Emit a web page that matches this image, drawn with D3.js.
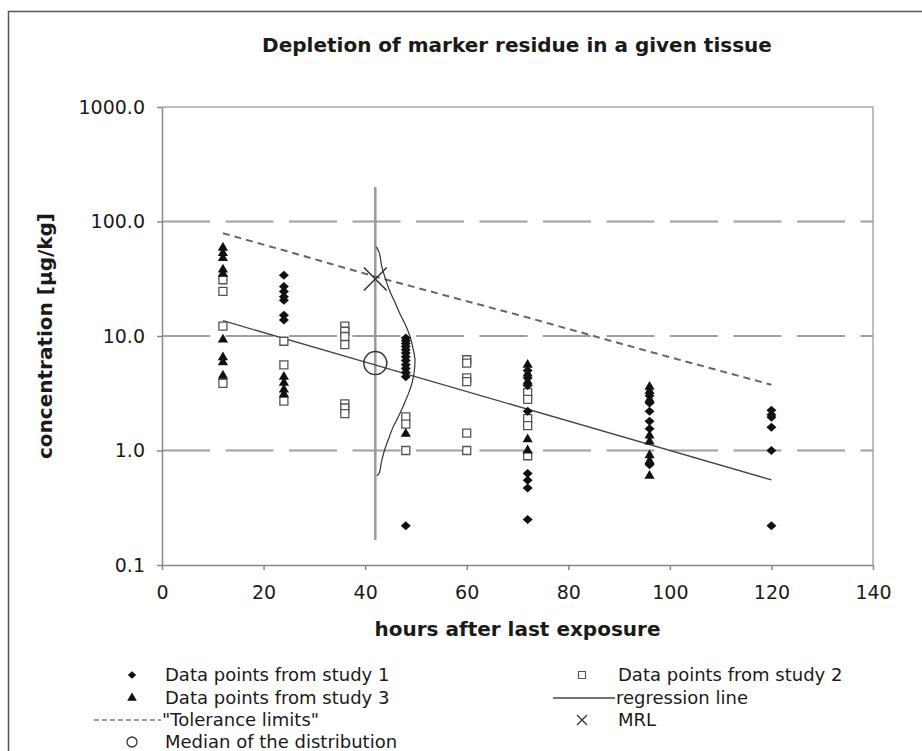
<!DOCTYPE html>
<html>
<head>
<meta charset="utf-8">
<script src="https://cdn.jsdelivr.net/npm/d3@7"></script>
<style>
  body { margin: 0; background: #fff; }
  text { font-family: "DejaVu Sans", Verdana, sans-serif; fill: #1a1a1a; }
</style>
</head>
<body>
<svg id="chart" width="922" height="751"></svg>
<script>
// [hours, concentration]
const study1 = [
  [24, 34], [24, 27], [24, 24.5], [24, 22], [24, 20.5], [24, 15.2], [24, 13.8],
  [48, 9.6], [48, 9.1], [48, 8.6], [48, 8.1], [48, 7.6], [48, 7.1], [48, 6.6],
  [48, 6.1], [48, 5.6], [48, 5.2], [48, 4.8], [48, 4.4], [48, 0.22],
  [72, 5.0], [72, 4.3], [72, 3.7], [72, 2.2], [72, 0.63], [72, 0.55], [72, 0.47], [72, 0.25],
  [96, 3.0], [96, 2.6], [96, 2.2], [96, 1.8], [96, 1.55], [96, 0.75],
  [120, 2.25], [120, 2.05], [120, 1.95], [120, 1.6], [120, 1.0], [120, 0.22]
];
const study2 = [
  [12, 31], [12, 24.5], [12, 12.2], [12, 3.85],
  [24, 9.0], [24, 5.6], [24, 2.7],
  [36, 12.2], [36, 11], [36, 9.9], [36, 8.4], [36, 2.55], [36, 2.35], [36, 2.1],
  [48, 1.97], [48, 1.7], [48, 1.0],
  [60, 6.2], [60, 5.8], [60, 4.3], [60, 4.0], [60, 1.42], [60, 1.0],
  [72, 3.2], [72, 2.8], [72, 1.9], [72, 1.65], [72, 0.9]
];
const study3 = [
  [12, 59], [12, 53], [12, 48], [12, 38], [12, 35], [12, 9.3], [12, 6.5], [12, 5.9], [12, 4.5],
  [24, 4.4], [24, 3.9], [24, 3.4], [24, 3.1],
  [48, 1.4],
  [72, 5.6], [72, 4.7], [72, 4.0], [72, 1.25], [72, 1.0],
  [96, 3.6], [96, 3.3], [96, 2.8], [96, 1.35], [96, 1.2], [96, 0.91], [96, 0.81], [96, 0.6]
];

const regression = [[12, 13.6], [120, 0.553]];
const tolerance = [[12, 79], [24, 56], [42, 33], [72, 14.5], [96, 7.3], [120, 3.75]];
const mrl = [42, 31.5];
const median = [42, 5.8];
const distAxis = [[42, 0.165], [42, 200]];
const distribution = [
  [42.2, 60], [42.8, 53], [43.3, 40], [44.0, 31.6], [44.8, 25], [45.8, 20], [46.8, 15.8],
  [47.9, 12.6], [48.8, 10], [49.4, 7.9], [49.8, 6.3], [49.8, 5.8], [49.7, 5.0],
  [49.3, 4.0], [48.6, 3.2], [47.6, 2.5], [46.6, 2.0], [45.5, 1.6], [44.6, 1.26],
  [43.8, 1.0], [43.2, 0.79], [42.8, 0.64], [42.3, 0.6]
];

const yTicks = [0.1, 1, 10, 100, 1000];
const yGrid = [1, 10, 100];
const xTicks = [0, 20, 40, 60, 80, 100, 120, 140];

const svg = d3.select('#chart');

const x = d3.scaleLinear().domain([0, 140]).range([162, 873]);
const y = d3.scaleLog().domain([0.1, 1000]).range([565, 107]);

// outer frame (left and top only are in view)
svg.append('path')
  .attr('d', 'M8.5,751V11.5H922')
  .attr('fill', 'none')
  .attr('stroke', '#555')
  .attr('stroke-width', 1.5);

svg.append('text')
  .attr('x', 517)
  .attr('y', 52)
  .attr('text-anchor', 'middle')
  .style('font-size', '20px')
  .style('font-weight', 'bold')
  .text('Depletion of marker residue in a given tissue');

// plot frame top / right
svg.append('path')
  .attr('d', `M${x(0)},${y(1000)}H${x(140)}V${y(0.1)}`)
  .attr('fill', 'none')
  .attr('stroke', '#a8a8a8')
  .attr('stroke-width', 1.5);

svg.selectAll('line.grid').data(yGrid)
  .enter().append('line')
  .attr('class', 'grid')
  .attr('x1', x(0))
  .attr('x2', x(140))
  .attr('y1', d => y(d))
  .attr('y2', d => y(d))
  .attr('stroke', '#a0a0a0')
  .attr('stroke-width', 2)
  .attr('stroke-dasharray', '48,15.5');

const yAxis = svg.append('g')
  .attr('transform', `translate(${x(0)},0)`)
  .call(d3.axisLeft(y).tickValues(yTicks).tickFormat(d3.format('.1f'))
    .tickSize(5).tickSizeOuter(0).tickPadding(12));

const xAxis = svg.append('g')
  .attr('transform', `translate(0,${y(0.1)})`)
  .call(d3.axisBottom(x).tickValues(xTicks).tickSize(5).tickSizeOuter(0).tickPadding(16));

[yAxis, xAxis].forEach(ax => {
  ax.select('.domain').attr('stroke', '#888').attr('stroke-width', 1.5);
  ax.selectAll('.tick line').attr('stroke', '#888').attr('stroke-width', 1.5);
  ax.selectAll('.tick text').style('font-size', '19px').attr('fill', '#1a1a1a');
});

svg.append('text')
  .attr('transform', `translate(52,${(y(0.1) + y(1000)) / 2}) rotate(-90)`)
  .attr('text-anchor', 'middle')
  .style('font-size', '20px')
  .style('font-weight', 'bold')
  .text('concentration [µg/kg]');

svg.append('text')
  .attr('x', (x(0) + x(140)) / 2)
  .attr('y', 636)
  .attr('text-anchor', 'middle')
  .style('font-size', '20px')
  .style('font-weight', 'bold')
  .text('hours after last exposure');

const line = d3.line().x(d => x(d[0])).y(d => y(d[1]));

svg.append('path')
  .attr('d', line(distAxis))
  .attr('stroke', '#9a9a9a')
  .attr('stroke-width', 2.5);

svg.append('path')
  .attr('d', line(regression))
  .attr('fill', 'none')
  .attr('stroke', '#444')
  .attr('stroke-width', 1.3);

svg.append('path')
  .attr('d', line(tolerance))
  .attr('fill', 'none')
  .attr('stroke', '#666')
  .attr('stroke-width', 2)
  .attr('stroke-dasharray', '7,5');

svg.append('path')
  .attr('d', line.curve(d3.curveCatmullRom)(distribution))
  .attr('fill', 'none')
  .attr('stroke', '#333')
  .attr('stroke-width', 1.2);
line.curve(d3.curveLinear);

const diamond = {
  draw(ctx, size) {
    const r = Math.sqrt(size) / 2;
    ctx.moveTo(0, -r * 0.9);
    ctx.lineTo(r, 0);
    ctx.lineTo(0, r * 0.9);
    ctx.lineTo(-r, 0);
    ctx.closePath();
  }
};

function marks(data, type, size, fill, stroke) {
  svg.append('g').selectAll('path').data(data)
    .enter().append('path')
    .attr('transform', d => `translate(${x(d[0])},${y(d[1])})`)
    .attr('d', d3.symbol().type(type).size(size))
    .attr('fill', fill)
    .attr('stroke', stroke)
    .attr('stroke-width', 1.3);
}

marks(study2, d3.symbolSquare, 64, '#fff', '#555');
marks(study3, d3.symbolTriangle, 45, '#111', 'none');
marks(study1, diamond, 100, '#111', 'none');

svg.append('path')
  .attr('transform', `translate(${x(mrl[0])},${y(mrl[1])})`)
  .attr('d', d3.symbol(d3.symbolX, 345)())
  .attr('fill', 'none')
  .attr('stroke', '#333')
  .attr('stroke-width', 1.5);

svg.append('circle')
  .attr('cx', x(median[0]))
  .attr('cy', y(median[1]))
  .attr('r', 11.5)
  .attr('fill', 'none')
  .attr('stroke', '#333')
  .attr('stroke-width', 1.5);

// legend
const legendLabels = [
  'Data points from study 1', 'Data points from study 2',
  'Data points from study 3', 'regression line',
  '"Tolerance limits"', 'MRL',
  'Median of the distribution'
];
const legendPos = [
  [132, 675, 165], [582, 675, 618],
  [132, 698, 165], [582, 698, 616],
  [132, 720, 162], [582, 720, 618],
  [132, 742, 165]
];
const lg = svg.append('g');

lg.append('path').attr('transform', 'translate(132,675)')
  .attr('d', d3.symbol(diamond, 70)()).attr('fill', '#111');
lg.append('path').attr('transform', 'translate(582,675)')
  .attr('d', d3.symbol(d3.symbolSquare, 49)()).attr('fill', '#fff')
  .attr('stroke', '#555').attr('stroke-width', 1.2);
lg.append('path').attr('transform', 'translate(132,698)')
  .attr('d', d3.symbol(d3.symbolTriangle, 40)()).attr('fill', '#111');
lg.append('line').attr('x1', 553).attr('x2', 615).attr('y1', 698).attr('y2', 698)
  .attr('stroke', '#444').attr('stroke-width', 1.3);
lg.append('line').attr('x1', 94).attr('x2', 161).attr('y1', 720).attr('y2', 720)
  .attr('stroke', '#777').attr('stroke-width', 1.6).attr('stroke-dasharray', '5,3');
lg.append('path').attr('transform', 'translate(582,720)')
  .attr('d', d3.symbol(d3.symbolX, 67)()).attr('fill', 'none')
  .attr('stroke', '#333').attr('stroke-width', 1.3);
lg.append('circle').attr('cx', 132).attr('cy', 742).attr('r', 5)
  .attr('fill', 'none').attr('stroke', '#333').attr('stroke-width', 1.3);

lg.selectAll('text').data(legendLabels)
  .enter().append('text')
  .attr('x', (d, i) => legendPos[i][2])
  .attr('y', (d, i) => legendPos[i][1])
  .attr('dy', '0.35em')
  .style('font-size', '18px')
  .text(d => d);
</script>
</body>
</html>
